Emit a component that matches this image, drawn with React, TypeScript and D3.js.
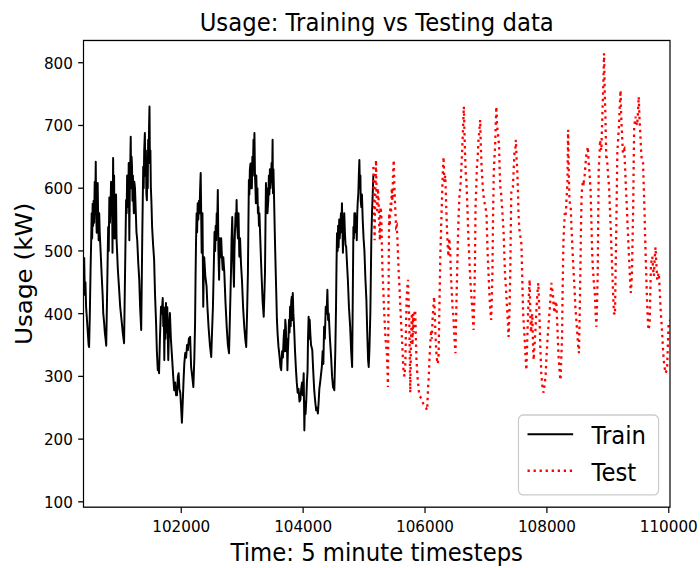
import React from "react";
import * as d3 from "d3";

// [timestep, usage kW]
const trainPoints: [number, number][] = [
  [100407,490],[100418,430],[100428,450],[100439,410],[100450,395],[100460,380],[100470,365],[100480,350],[100488,347],
  [100500,400],[100512,470],[100520,506],[100530,560],[100538,520],[100546,575],[100554,540],[100562,580],[100570,545],
  [100580,610],[100590,580],[100597,642],[100604,560],[100613,529],[100620,590],[100629,608],[100636,555],[100645,517],
  [100654,560],[100662,530],[100678,497],[100695,460],[100710,430],[100720,401],[100735,385],[100747,369],[100758,360],
  [100769,349],[100785,440],[100801,538],[100810,500],[100820,585],[100830,545],[100840,570],[100848,610],[100856,560],
  [100864,600],[100872,497],[100882,648],[100890,560],[100898,620],[100906,520],[100914,580],[100921,560],[100930,590],
  [100938,520],[100944,506],[100960,470],[100980,440],[100998,411],[101020,390],[101041,369],[101062,353],[101080,480],
  [101095,581],[101104,560],[101112,620],[101122,613],[101130,570],[101138,640],[101148,517],[101156,600],[101164,640],
  [101171,682],[101178,600],[101185,650],[101192,634],[101200,580],[101207,620],[101213,592],[101222,560],[101230,610],
  [101241,600],[101255,560],[101265,530],[101278,517],[101295,480],[101311,454],[101325,410],[101343,374],[101360,520],
  [101376,634],[101384,600],[101392,660],[101403,688],[101412,620],[101420,660],[101428,590],[101436,581],[101444,640],
  [101450,600],[101457,677],[101465,640],[101472,700],[101479,730],[101486,640],[101494,660],[101501,602],[101510,580],
  [101522,538],[101538,510],[101555,486],[101570,430],[101587,385],[101600,340],[101615,310],[101625,315],[101636,305],
  [101650,360],[101668,411],[101680,400],[101696,425],[101705,380],[101714,410],[101722,326],[101730,390],[101740,360],
  [101749,417],[101760,370],[101771,410],[101780,360],[101787,326],[101800,380],[101814,401],[101830,360],[101852,326],
  [101868,300],[101884,278],[101900,290],[101915,270],[101930,270],[101945,300],[101957,305],[101970,280],[101984,274],
  [101998,250],[102011,226],[102025,260],[102038,294],[102050,320],[102065,337],[102080,330],[102095,350],[102109,342],
  [102125,360],[102146,363],[102162,315],[102180,300],[102199,283],[102215,330],[102227,385],[102235,460],[102243,517],
  [102252,560],[102260,530],[102270,576],[102280,550],[102292,580],[102300,560],[102310,600],[102319,624],[102327,560],
  [102335,497],[102342,560],[102348,560],[102355,480],[102361,411],[102370,470],[102377,490],[102395,460],[102416,443],
  [102430,410],[102448,379],[102470,350],[102492,331],[102505,370],[102520,411],[102535,480],[102546,530],[102556,500],
  [102565,540],[102573,517],[102582,560],[102590,540],[102600,597],[102610,500],[102621,454],[102632,520],[102645,490],
  [102655,520],[102665,497],[102680,470],[102690,490],[102707,465],[102725,420],[102746,379],[102765,350],[102784,337],
  [102800,400],[102816,465],[102826,520],[102837,554],[102848,500],[102856,470],[102865,443],[102873,500],[102881,530],
  [102892,560],[102900,540],[102908,581],[102918,540],[102930,520],[102940,560],[102953,491],[102965,520],[102980,480],
  [102996,454],[103015,410],[103034,379],[103050,360],[103066,347],[103080,400],[103094,465],[103102,540],[103110,613],
  [103118,590],[103126,630],[103136,639],[103145,600],[103152,640],[103159,600],[103167,650],[103175,620],[103185,677],
  [103193,640],[103201,688],[103210,620],[103218,600],[103224,576],[103232,620],[103240,580],[103250,600],[103258,560],
  [103266,570],[103275,540],[103283,560],[103293,530],[103307,490],[103321,454],[103335,420],[103353,395],[103364,430],
  [103374,465],[103382,540],[103390,608],[103398,570],[103406,600],[103415,560],[103428,580],[103438,620],[103446,590],
  [103455,630],[103463,600],[103473,613],[103482,640],[103490,610],[103499,677],[103505,592],[103513,630],[103520,600],
  [103526,570],[103537,520],[103548,475],[103560,430],[103570,390],[103583,365],[103596,347],[103615,330],[103628,315],
  [103640,310],[103655,340],[103668,330],[103680,360],[103689,374],[103698,340],[103707,390],[103716,380],[103726,340],
  [103734,360],[103742,310],[103750,340],[103759,360],[103768,390],[103777,370],[103786,411],[103796,380],[103805,420],
  [103814,427],[103822,390],[103830,433],[103840,400],[103851,380],[103867,340],[103883,310],[103896,290],[103910,274],
  [103925,280],[103940,260],[103955,263],[103968,280],[103982,290],[103995,270],[104009,305],[104020,214],[104030,260],
  [104040,240],[104052,263],[104062,290],[104073,310],[104080,360],[104090,395],[104100,360],[104108,390],[104117,370],
  [104130,350],[104150,342],[104165,310],[104182,278],[104198,260],[104214,246],[104228,250],[104242,241],[104255,260],
  [104266,280],[104279,290],[104290,300],[104307,315],[104320,340],[104332,320],[104344,379],[104356,360],[104371,411],
  [104385,400],[104398,438],[104410,390],[104420,400],[104440,360],[104459,331],[104475,300],[104491,283],[104512,278],
  [104528,340],[104540,411],[104548,480],[104556,528],[104566,500],[104574,540],[104582,506],[104592,550],[104600,520],
  [104610,538],[104620,560],[104628,530],[104637,576],[104645,540],[104653,497],[104662,540],[104668,520],[104675,560],
  [104685,530],[104695,510],[104707,506],[104720,480],[104734,454],[104752,410],[104772,379],[104788,340],[104804,315],
  [104815,430],[104825,538],[104833,520],[104841,560],[104853,560],[104862,530],[104870,550],[104880,517],[104888,560],
  [104897,580],[104906,592],[104914,620],[104923,645],[104932,600],[104940,620],[104945,580],[104955,570],[104965,590],
  [104978,549],[104992,520],[105006,500],[105020,460],[105038,422],[105052,370],[105066,326],[105076,315],[105087,340],
  [105103,401],[105119,517],[105130,560],[105140,586],[105152,620],
];

const testPoints: [number, number][] = [
  [105152,634],[105160,580],[105173,517],[105185,600],[105196,645],[105205,590],[105217,560],[105226,600],[105238,581],
  [105248,540],[105261,517],[105270,570],[105282,560],[105292,510],[105303,465],[105315,440],[105326,411],[105337,390],
  [105347,369],[105360,350],[105374,337],[105385,310],[105391,283],[105400,411],[105411,560],[105422,540],[105432,576],
  [105442,560],[105455,600],[105465,580],[105475,620],[105487,645],[105495,610],[105503,592],[105514,560],[105526,538],
  [105537,540],[105547,520],[105558,490],[105568,465],[105582,440],[105595,411],[105610,380],[105623,358],[105636,330],
  [105649,305],[105663,300],[105677,320],[105688,380],[105698,422],[105708,440],[105720,454],[105731,420],[105742,390],
  [105750,330],[105758,274],[105770,360],[105785,401],[105795,350],[105805,400],[105812,370],[105825,400],[105839,406],
  [105850,360],[105860,326],[105876,300],[105893,283],[105906,270],[105919,268],[105935,265],[105952,262],[105975,255],
  [105996,252],[106015,250],[106035,246],[106051,283],[106062,300],[106072,326],[106086,350],[106100,374],[106112,360],
  [106126,395],[106137,410],[106149,427],[106160,400],[106170,370],[106185,340],[106197,326],[106210,320],[106223,335],
  [106238,420],[106251,491],[106265,540],[106278,581],[106290,620],[106304,650],[106318,610],[106332,620],[106345,580],
  [106359,538],[106372,510],[106385,491],[106398,520],[106413,500],[106426,460],[106440,433],[106452,410],[106466,395],
  [106483,360],[106500,337],[106512,400],[106527,465],[106540,520],[106553,560],[106566,590],[106581,602],[106595,630],
  [106608,656],[106622,690],[106637,730],[106650,680],[106662,640],[106670,620],[106678,613],[106688,590],[106699,560],
  [106712,520],[106726,491],[106740,460],[106754,438],[106765,420],[106775,411],[106786,390],[106797,374],[106808,420],
  [106819,475],[106829,570],[106840,600],[106852,634],[106865,650],[106878,677],[106890,690],[106905,709],[106915,670],
  [106926,640],[106937,620],[106948,602],[106958,590],[106969,581],[106990,570],[107009,560],[107020,520],[107030,491],
  [107044,460],[107058,427],[107072,405],[107085,390],[107095,420],[107106,465],[107117,560],[107128,624],[107140,650],
  [107150,666],[107160,700],[107171,730],[107182,700],[107193,690],[107204,680],[107215,666],[107225,630],[107236,602],
  [107250,590],[107264,570],[107277,550],[107290,528],[107300,500],[107312,465],[107328,440],[107345,411],[107358,390],
  [107371,363],[107385,400],[107399,465],[107407,530],[107415,592],[107428,600],[107442,602],[107455,630],[107468,656],
  [107480,660],[107491,677],[107502,650],[107513,630],[107524,600],[107534,560],[107545,540],[107555,528],[107570,520],
  [107583,510],[107597,450],[107610,401],[107623,380],[107636,358],[107650,330],[107664,310],[107678,360],[107691,401],
  [107705,430],[107717,454],[107728,400],[107740,370],[107750,390],[107761,400],[107772,350],[107783,326],[107797,350],
  [107810,370],[107825,400],[107838,422],[107850,440],[107859,449],[107870,420],[107880,390],[107894,340],[107908,305],
  [107925,285],[107945,274],[107960,285],[107978,300],[107998,340],[108017,369],[108033,390],[108050,411],[108062,430],
  [108073,449],[108086,440],[108099,430],[108112,410],[108126,401],[108140,415],[108154,420],[108167,390],[108180,358],
  [108193,330],[108207,310],[108215,300],[108224,294],[108236,330],[108248,360],[108260,450],[108272,517],[108283,540],
  [108293,560],[108305,555],[108316,570],[108326,590],[108337,608],[108348,693],[108360,620],[108370,581],[108380,575],
  [108391,570],[108402,540],[108413,517],[108426,490],[108439,465],[108453,440],[108467,411],[108483,390],[108499,369],
  [108512,350],[108526,337],[108538,400],[108549,465],[108560,540],[108570,592],[108580,600],[108591,613],[108605,610],
  [108619,620],[108635,640],[108651,656],[108662,660],[108672,666],[108686,640],[108700,624],[108708,610],[108716,600],
  [108724,570],[108732,538],[108742,500],[108753,475],[108770,450],[108786,433],[108800,400],[108813,379],[108824,420],
  [108834,465],[108843,560],[108851,634],[108862,650],[108873,677],[108884,665],[108894,660],[108905,700],[108915,730],
  [108927,770],[108938,815],[108948,760],[108959,720],[108967,680],[108975,645],[108983,650],[108991,640],[109005,620],
  [109020,602],[109033,570],[109047,538],[109060,500],[109074,465],[109087,430],[109100,401],[109108,400],[109117,398],
  [109128,470],[109139,538],[109148,600],[109156,656],[109170,680],[109182,698],[109195,730],[109209,756],[109218,720],
  [109226,700],[109236,680],[109247,656],[109258,660],[109270,662],[109280,640],[109291,613],[109302,590],[109312,570],
  [109324,540],[109335,517],[109345,495],[109356,475],[109366,450],[109377,433],[109386,445],[109396,465],[109406,520],
  [109416,570],[109424,640],[109432,698],[109442,705],[109453,714],[109467,705],[109481,700],[109494,720],[109507,746],
  [109520,710],[109536,680],[109546,660],[109557,645],[109567,642],[109578,640],[109590,600],[109600,570],[109610,530],
  [109621,491],[109632,455],[109643,422],[109654,395],[109665,374],[109675,378],[109686,385],[109696,430],[109707,475],
  [109718,485],[109730,491],[109743,470],[109756,460],[109770,490],[109783,506],[109796,480],[109810,454],[109823,460],
  [109836,465],[109850,440],[109864,411],[109877,390],[109891,369],[109904,345],[109917,326],[109931,315],[109945,305],
  [109958,308],[109972,310],[109985,350],[109998,385],[110027,390],
];

const xTicks = [102000, 104000, 106000, 108000, 110000];
const yTicks = [100, 200, 300, 400, 500, 600, 700, 800];
const xDomain = [100396, 110020];
const yDomain = [91.5, 835.5];
const legendLabels = ["Train", "Test"];

const W = 640;
const H = 480;
const FONT = "DejaVu Sans";

export default function App() {
  const left = 76.34, right = 612.57, top = 34.2, bottom = 428.6;
  const x = d3.scaleLinear().domain(xDomain).range([left, right]);
  const y = d3.scaleLinear().domain(yDomain).range([bottom, top]);
  const line = d3
    .line<[number, number]>()
    .x((d) => x(d[0]))
    .y((d) => y(d[1]));
  const tickLen = 4.86;
  const tickFs = 13.89;
  const bigFs = 20.83;

  const legX = 474.0, legY = 350.7, legW = 602.15 - 474.0, legH = 418.2 - 350.7;
  const rows = [367, 397.8];

  return (
    <svg
      width={700}
      height={568}
      viewBox={`0 0 ${W} ${H}`}
      preserveAspectRatio="none"
      style={{ position: "absolute", left: 0, top: 0, display: "block" }}
      fontFamily={FONT}
    >
      <defs>
        <clipPath id="plotClip">
          <rect x={left} y={top} width={right - left} height={bottom - top} />
        </clipPath>
      </defs>
      <rect x={0} y={0} width={W} height={H} fill="#ffffff" />
      <g clipPath="url(#plotClip)">
        <path
          d={line(trainPoints) || ""}
          fill="none"
          stroke="#000000"
          strokeWidth={1.8}
          strokeLinejoin="round"
        />
        <path
          d={line(testPoints) || ""}
          fill="none"
          stroke="#ff0000"
          strokeWidth={2.08}
          strokeDasharray="2.08,3.44"
        />
      </g>
      <rect
        x={left}
        y={top}
        width={right - left}
        height={bottom - top}
        fill="none"
        stroke="#000"
        strokeWidth={1.1}
      />
      {xTicks.map((t) => (
        <g key={"x" + t}>
          <line x1={x(t)} x2={x(t)} y1={bottom} y2={bottom + tickLen} stroke="#000" strokeWidth={1.1} />
          <text x={x(t)} y={449.8} fontSize={tickFs} textAnchor="middle" fill="#000">
            {t}
          </text>
        </g>
      ))}
      {yTicks.map((t) => (
        <g key={"y" + t}>
          <line x1={left - tickLen} x2={left} y1={y(t)} y2={y(t)} stroke="#000" strokeWidth={1.1} />
          <text x={left - 9.72} y={y(t) + 5.06} fontSize={tickFs} textAnchor="end" fill="#000">
            {t}
          </text>
        </g>
      ))}
      <text x={(left + right) / 2} y={25.9} fontSize={bigFs} textAnchor="middle" fill="#000">
        Usage: Training vs Testing data
      </text>
      <text x={(left + right) / 2} y={474.3} fontSize={bigFs} textAnchor="middle" fill="#000">
        Time: 5 minute timesteps
      </text>
      <text
        transform={`translate(29.5, ${(top + bottom) / 2}) rotate(-90)`}
        fontSize={bigFs}
        textAnchor="middle"
        fill="#000"
      >
        Usage (kW)
      </text>
      <g>
        <rect
          x={legX}
          y={legY}
          width={legW}
          height={legH}
          rx={4.17}
          ry={4.17}
          fill="#ffffff"
          fillOpacity={0.8}
          stroke="#cccccc"
          strokeWidth={1.1}
        />
        <line x1={482.3} x2={524.0} y1={rows[0]} y2={rows[0]} stroke="#000" strokeWidth={1.8} />
        <line
          x1={482.3}
          x2={524.0}
          y1={rows[1]}
          y2={rows[1]}
          stroke="#ff0000"
          strokeWidth={2.08}
          strokeDasharray="2.08,3.44"
        />
        {legendLabels.map((lab, i) => (
          <text key={lab} x={540.7} y={rows[i] + 8.5} fontSize={bigFs} fill="#000">
            {lab}
          </text>
        ))}
      </g>
    </svg>
  );
}
